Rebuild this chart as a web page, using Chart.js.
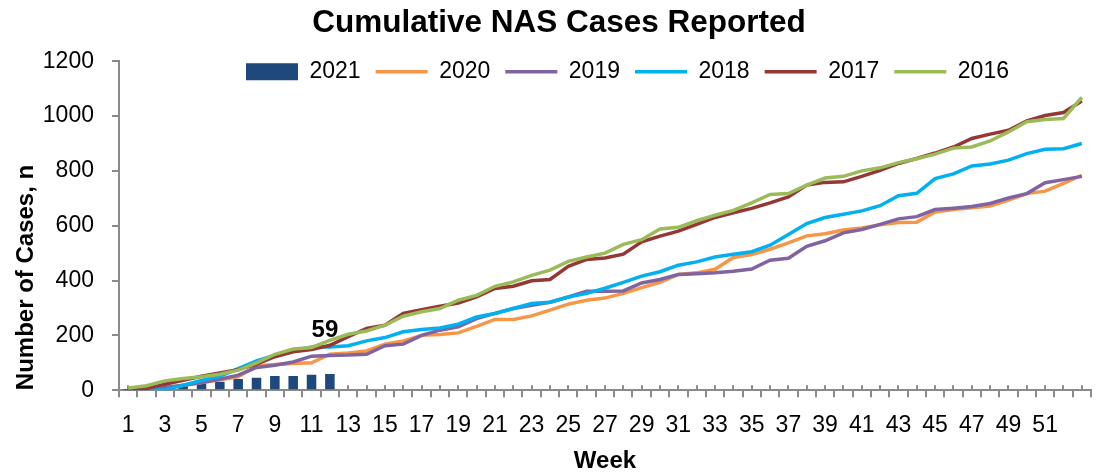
<!DOCTYPE html>
<html>
<head>
<meta charset="utf-8">
<title>Cumulative NAS Cases Reported</title>
<script src="https://cdn.jsdelivr.net/npm/chart.js@4.4.1/dist/chart.umd.min.js"></script>
<style>
  html, body { margin: 0; padding: 0; background: #fff; }
  #wrap { width: 1099px; height: 475px; }
</style>
</head>
<body>
<div id="wrap"><canvas id="myChart" width="1099" height="475"></canvas></div>
<script>
// Weeks (categories) and the labels shown on the axis
var weeks = ['1','2','3','4','5','6','7','8','9','10','11','12','13','14','15','16','17','18','19','20',
  '21','22','23','24','25','26','27','28','29','30','31','32','33','34','35','36','37','38','39','40',
  '41','42','43','44','45','46','47','48','49','50','51','52','53'];
var weekTicks = ['1','3','5','7','9','11','13','15','17','19','21','23','25','27','29','31','33','35',
  '37','39','41','43','45','47','49','51'];
var yTicks = [0, 200, 400, 600, 800, 1000, 1200];

// Cumulative cases per year
var cases2021 = [1, 4, 9, 15, 25, 31, 41, 45, 52, 52, 56, 59];
var cases2020 = [0, 2, 8, 18, 28, 38, 49, 88, 94, 97, 100, 131, 136, 143, 168, 180, 200, 203, 209, 233,
  258, 258, 271, 292, 314, 328, 336, 353, 374, 393, 422, 428, 441, 484, 495, 514, 537, 563, 571, 584,
  592, 603, 612, 613, 650, 659, 665, 672, 693, 717, 726, 754, 784];
var cases2019 = [0, 2, 10, 18, 28, 40, 55, 83, 91, 103, 124, 127, 128, 131, 162, 168, 200, 219, 231, 261,
  280, 298, 310, 321, 340, 361, 361, 362, 391, 404, 422, 425, 428, 434, 442, 474, 481, 525, 545, 574,
  586, 605, 625, 633, 659, 664, 670, 681, 701, 717, 757, 768, 780];
var cases2018 = [0, 1, 2, 18, 36, 51, 79, 107, 128, 145, 158, 158, 162, 180, 192, 213, 221, 227, 241, 267,
  280, 298, 316, 321, 340, 353, 372, 393, 416, 432, 456, 468, 486, 496, 505, 529, 568, 608, 630, 642,
  654, 673, 709, 718, 772, 789, 818, 825, 839, 863, 879, 881, 900];
var cases2017 = [3, 6, 22, 36, 51, 63, 75, 95, 122, 140, 148, 164, 195, 225, 237, 280, 294, 306, 318, 340,
  371, 379, 399, 404, 452, 477, 482, 496, 541, 562, 580, 605, 630, 647, 663, 683, 705, 748, 758, 760,
  780, 802, 827, 845, 865, 887, 918, 934, 948, 982, 1002, 1013, 1055];
var cases2016 = [8, 16, 34, 43, 49, 58, 73, 100, 131, 150, 156, 182, 204, 216, 237, 270, 286, 298, 328, 346,
  379, 395, 419, 438, 470, 486, 500, 532, 549, 588, 594, 618, 638, 656, 683, 714, 717, 748, 774, 780,
  800, 811, 830, 844, 861, 883, 887, 909, 942, 979, 987, 991, 1068];

var FONT = '"Liberation Sans", Arial, sans-serif';
var AXIS_GREY = '#8a8a8a';

function lineSet(label, data, color, order) {
    return {
        type: 'line',
        label: label,
        data: data,
        borderColor: color,
        backgroundColor: color,
        borderWidth: 3.5,
        pointRadius: 0,
        pointHoverRadius: 0,
        pointStyle: 'line',
        tension: 0,
        fill: false,
        order: order
    };
}

// small tick marks above the x axis at each week centre
var centerTicks = {
    id: 'centerTicks',
    beforeDatasetsDraw: function(chart) {
        var ctx = chart.ctx;
        var x = chart.scales.x;
        var bottom = chart.chartArea.bottom;
        ctx.save();
        ctx.strokeStyle = AXIS_GREY;
        ctx.lineWidth = 2;
        for (var i = 0; i < weeks.length; i++) {
            var px = Math.round(x.getPixelForValue(i));
            ctx.beginPath();
            ctx.moveTo(px, bottom);
            ctx.lineTo(px, bottom - 5);
            ctx.stroke();
        }
        ctx.restore();
    }
};

// value label over the latest 2021 bar
var barLabel = {
    id: 'barLabel',
    afterDatasetsDraw: function(chart) {
        var meta = chart.getDatasetMeta(0);
        var i = cases2021.length - 1;
        var bar = meta.data[i];
        var ctx = chart.ctx;
        ctx.save();
        ctx.font = 'bold 24px ' + FONT;
        ctx.fillStyle = '#000';
        ctx.textAlign = 'center';
        ctx.textBaseline = 'middle';
        ctx.fillText(String(cases2021[i]), bar.x - 5, bar.y - 44);
        ctx.restore();
    }
};

// legend in one row inside the plot, near the top, a bit right of centre
var legendShift = {
    id: 'legendShift',
    beforeLayout: function(chart) {
        chart.legend.isHorizontal = function() { return true; };
    },
    afterLayout: function(chart) {
        var ca = chart.chartArea;
        chart.legend.left = ca.left + 45;
        chart.legend.right = ca.right;
        chart.legend.top = ca.top - 16;
        chart.titleBlock.left += 27;
    }
};

var ctx = document.getElementById('myChart').getContext('2d');

var chart = new Chart(ctx, {
    data: {
        labels: weeks,
        datasets: [
            {
                type: 'bar',
                label: '2021',
                data: cases2021,
                backgroundColor: '#1F497D',
                borderWidth: 0,
                pointStyle: 'rect',
                barPercentage: 0.52,
                categoryPercentage: 1,
                order: 10
            },
            lineSet('2020', cases2020, '#F79646', 5),
            lineSet('2019', cases2019, '#8064A2', 4),
            lineSet('2018', cases2018, '#00B0F0', 3),
            lineSet('2017', cases2017, '#953735', 2),
            lineSet('2016', cases2016, '#9BBB59', 1)
        ]
    },
    options: {
        responsive: false,
        devicePixelRatio: 1,
        animation: false,
        layout: { padding: { left: 0, right: 8, top: 0, bottom: 0 } },
        plugins: {
            title: {
                display: true,
                text: 'Cumulative NAS Cases Reported',
                color: '#000',
                font: { family: FONT, size: 31.5, weight: 'bold' },
                padding: { top: 4, bottom: 19.4 }
            },
            legend: {
                position: 'chartArea',
                align: 'center',
                labels: {
                    usePointStyle: true,
                    pointStyleWidth: 52,
                    boxWidth: 52,
                    boxHeight: 17,
                    padding: 15,
                    color: '#000',
                    font: { family: FONT, size: 23 },
                    sort: function(a, b) { return a.datasetIndex - b.datasetIndex; }
                }
            },
            tooltip: { enabled: false }
        },
        scales: {
            x: {
                offset: true,
                border: { color: AXIS_GREY, width: 2 },
                grid: {
                    offset: true,
                    drawOnChartArea: false,
                    tickLength: 7,
                    color: AXIS_GREY,
                    lineWidth: 2
                },
                ticks: {
                    autoSkip: false,
                    maxRotation: 0,
                    padding: 15,
                    color: '#000',
                    font: { family: FONT, size: 23 },
                    callback: function(value) {
                        var lab = weeks[value];
                        return weekTicks.indexOf(lab) >= 0 ? lab : '';
                    }
                },
                title: {
                    display: true,
                    text: 'Week',
                    color: '#000',
                    font: { family: FONT, size: 24, weight: 'bold' },
                    padding: { top: -8, bottom: -0.6 }
                }
            },
            y: {
                min: yTicks[0],
                max: yTicks[yTicks.length - 1],
                border: { color: AXIS_GREY, width: 2 },
                grid: {
                    drawOnChartArea: false,
                    tickLength: 7,
                    color: AXIS_GREY,
                    lineWidth: 2
                },
                afterBuildTicks: function(scale) {
                    scale.ticks = yTicks.map(function(v) { return { value: v }; });
                },
                ticks: {
                    padding: 18,
                    color: '#000',
                    font: { family: FONT, size: 23 },
                    callback: function(value) { return String(value); }
                },
                title: {
                    display: true,
                    text: 'Number of Cases, n',
                    align: 'start',
                    color: '#000',
                    font: { family: FONT, size: 24, weight: 'bold' },
                    padding: { top: 12, bottom: -16 }
                }
            }
        }
    },
    plugins: [centerTicks, barLabel, legendShift]
});
</script>
</body>
</html>
